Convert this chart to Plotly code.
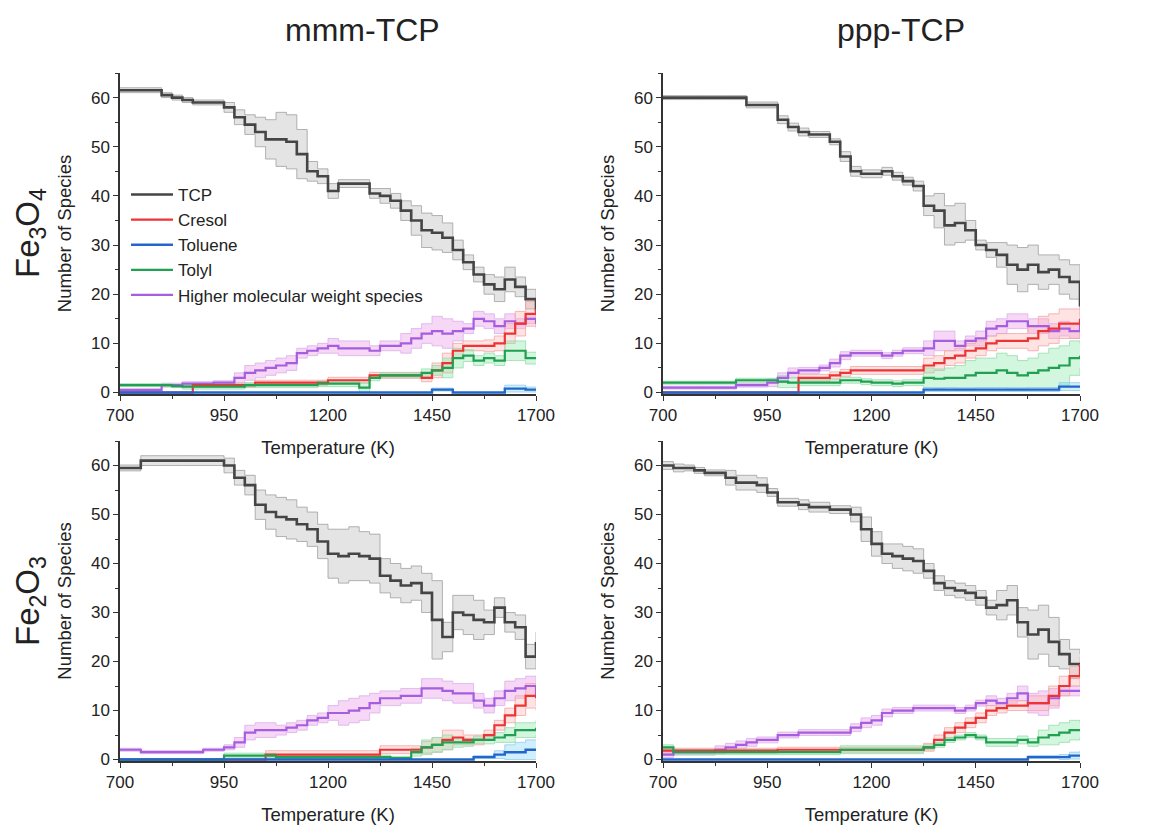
import plotly.graph_objects as go

# Temperature grid (K)
T = [700, 725, 750, 775, 800, 825, 850, 875, 900, 925, 950, 975, 1000, 1025, 1050,
     1075, 1100, 1125, 1150, 1175, 1200, 1225, 1250, 1275, 1300, 1325, 1350, 1375,
     1400, 1425, 1450, 1475, 1500, 1525, 1550, 1575, 1600, 1625, 1650, 1675, 1700]

SERIES = ["TCP", "Cresol", "Toluene", "Tolyl", "Higher molecular weight species"]

# ---------------- Panel A: mmm-TCP / Fe3O4 ----------------
A_TCP = [61.5, 61.5, 61.5, 61.5, 60.5, 60, 59.5, 59, 59, 59, 58, 56, 54.5, 53, 51.5, 51.5, 51, 48.5, 45, 44,
         41, 42.5, 42.5, 42.5, 40.5, 40, 39, 37, 35, 33, 32.5, 31.5, 29, 26.5, 24, 22, 21, 23, 21.5, 19, 16.5]
A_TCP_SD = [0.5, 0.5, 0.5, 0.5, 0.5, 0.5, 0.5, 0.5, 0.5, 0.5, 1, 1.5, 2, 3, 4, 5.5, 5.5, 5, 2, 1.5,
            1.5, 0.8, 0.8, 0.8, 1, 1.5, 1.5, 2, 3, 3.5, 3.5, 3, 2, 1.5, 1.5, 2, 2.5, 2.5, 2, 2, 1.5]
A_CRE = [0, 0, 0, 0, 0, 0, 0, 1.5, 1.5, 1.5, 1.5, 1.5, 1.5, 2, 2, 2, 2, 2, 2, 2,
         2.5, 2.5, 2.5, 2.5, 3.5, 3.5, 3.5, 3.5, 3.5, 3, 4.5, 6, 8.5, 9.5, 9.5, 9.5, 10, 12, 14, 16, 17]
A_CRE_SD = [0, 0, 0, 0, 0, 0, 0, 0.4, 0.4, 0.4, 0.4, 0.4, 0.4, 0.5, 0.5, 0.5, 0.5, 0.5, 0.5, 0.5,
            0.6, 0.6, 0.6, 0.6, 0.6, 0.6, 0.6, 0.6, 0.6, 0.8, 1.5, 2, 1.5, 1, 1, 1.2, 1.5, 2, 2.5, 2.5, 2]
A_TOL = [0, 0, 0, 0, 0, 0, 0, 0, 0, 0, 0, 0, 0, 0, 0, 0, 0, 0, 0, 0,
         0, 0, 0, 0, 0, 0, 0, 0, 0, 0, 0.6, 0.6, 0, 0, 0, 0, 0, 0.8, 0.8, 0.6, 0.6]
A_TOL_SD = [0, 0, 0, 0, 0, 0, 0, 0, 0, 0, 0, 0, 0, 0, 0, 0, 0, 0, 0, 0,
            0, 0, 0, 0, 0, 0, 0, 0, 0, 0, 0.3, 0.3, 0, 0, 0, 0, 0, 0.7, 0.7, 0.5, 0.5]
A_TYL = [1.5, 1.5, 1.5, 1.5, 1.5, 1.3, 1.2, 1.2, 1.2, 1.2, 1.2, 1.2, 1.5, 1.5, 1.5, 1.5, 1.5, 1.5, 1.5, 1.8,
         1.8, 1.8, 1.8, 1.0, 3, 3.5, 3.5, 3.5, 3.5, 4, 4.5, 5, 7, 7.5, 6.5, 7, 6.5, 8.5, 8.5, 7, 7]
A_TYL_SD = [0.3, 0.3, 0.3, 0.3, 0.3, 0.3, 0.5, 0.5, 0.5, 0.5, 0.5, 0.5, 0.5, 0.5, 0.5, 0.5, 0.5, 0.5, 0.5, 0.6,
            0.6, 0.6, 0.6, 1.0, 0.6, 0.5, 0.5, 0.5, 0.5, 0.8, 1, 2, 2, 1.2, 1, 1, 1, 2, 2, 1.2, 1]
A_HMW = [0.5, 0.5, 0.5, 0.5, 1.5, 1.5, 1.8, 1.8, 1.8, 2, 2, 3, 4, 4.5, 5, 5.5, 6, 8, 8.5, 9,
         9.5, 9, 9, 9, 8.5, 9.5, 9.5, 10, 11, 12, 12.5, 12, 12.5, 13, 15, 14.5, 13.5, 14.5, 14, 15, 14]
A_HMW_SD = [0.3, 0.3, 0.3, 0.3, 0.4, 0.4, 0.4, 0.4, 0.4, 0.4, 0.4, 1, 1.5, 1.5, 1.5, 1.5, 1.5, 1, 1, 1,
            1.5, 1.5, 1.5, 1.5, 1, 1, 1, 2, 2, 2, 3, 3, 2, 1, 1.5, 1.5, 1.5, 1.5, 1, 1, 1]

# ---------------- Panel B: ppp-TCP / Fe3O4 ----------------
B_TCP = [60, 60, 60, 60, 60, 60, 60, 60, 58.5, 58.5, 58.5, 55.5, 54, 53, 52.5, 52.5, 51, 48, 45, 44.5,
         44.5, 45, 44, 43, 42, 38, 37, 34, 34.5, 33, 30, 29, 28, 26, 25, 26, 24.5, 25, 23.5, 22.5, 17.5]
B_TCP_SD = [0.4, 0.4, 0.4, 0.4, 0.4, 0.4, 0.4, 0.4, 0.6, 0.6, 0.6, 0.8, 0.8, 0.8, 0.6, 0.6, 0.6, 1, 1, 0.8,
            0.8, 0.8, 0.8, 0.8, 1, 2, 3.5, 4, 4, 2, 1, 1.5, 2.5, 4, 4.5, 4, 3.5, 3, 3.5, 3.5, 2]
B_CRE = [0, 0, 0, 0, 0, 0, 0, 0, 0, 0, 0, 0, 0, 3, 3, 3, 3.5, 4, 4.5, 4.5,
         4.5, 4.5, 4.5, 4.5, 4.5, 5.5, 6, 7, 7.5, 8.5, 9, 10, 10.5, 10.5, 10.5, 11, 12.5, 13, 14, 14, 15]
B_CRE_SD = [0, 0, 0, 0, 0, 0, 0, 0, 0, 0, 0, 0, 0, 0.7, 0.7, 0.7, 0.7, 0.7, 0.8, 0.8,
            0.8, 0.8, 0.8, 0.8, 0.8, 1.5, 1.5, 1.5, 1.5, 1.5, 1.5, 1.5, 1.5, 1.5, 1.5, 2.5, 3, 3, 3, 3, 2.5]
B_TOL = [0, 0, 0, 0, 0, 0, 0, 0, 0, 0, 0, 0, 0, 0, 0, 0, 0, 0, 0, 0,
         0, 0, 0, 0, 0, 0.6, 0.6, 0.6, 0.6, 0.6, 0.6, 0.6, 0.6, 0.6, 0.6, 0.6, 0.6, 0.6, 1.2, 1.2, 1.2]
B_TOL_SD = [0, 0, 0, 0, 0, 0, 0, 0, 0, 0, 0, 0, 0, 0, 0, 0, 0, 0, 0, 0,
            0, 0, 0, 0, 0, 0.4, 0.4, 0.4, 0.4, 0.4, 0.4, 0.4, 0.4, 0.4, 0.4, 0.4, 0.4, 0.4, 0.8, 0.8, 0.8]
B_TYL = [2, 2, 2, 2, 2, 2, 2, 2.5, 2.5, 2.5, 2.5, 2.2, 2, 2, 2, 2, 2, 2.5, 2.5, 2.2,
         2, 2, 1.8, 2, 2, 3, 2.8, 3, 3, 3.5, 4, 4, 4.5, 4, 3.5, 4, 4.5, 5, 5.5, 7, 7.5]
B_TYL_SD = [0.3, 0.3, 0.3, 0.3, 0.3, 0.3, 0.3, 0.4, 0.4, 0.4, 0.4, 1.2, 1, 0.6, 0.6, 0.6, 0.6, 0.6, 0.6, 0.6,
            0.6, 0.6, 0.6, 0.6, 0.6, 2, 2, 2, 2.5, 3, 3, 3, 3.5, 3.5, 3, 3, 3.5, 4, 4, 3.5, 2.5]
B_HMW = [1, 1, 1, 1, 1, 1, 1, 1.5, 1.5, 1.5, 2, 3, 4, 4.5, 4.5, 5, 6, 7.5, 8, 8,
         8, 7.5, 8, 8.5, 8.5, 9, 10.5, 10.5, 9.5, 10.5, 11, 13, 13.5, 14.5, 14.5, 13.5, 13.5, 12.5, 13, 12.5, 14]
B_HMW_SD = [0.3, 0.3, 0.3, 0.3, 0.3, 0.3, 0.3, 0.4, 0.4, 0.4, 0.8, 1, 1, 0.6, 0.6, 0.6, 0.8, 0.8, 0.6, 0.6,
            0.6, 0.6, 0.6, 0.6, 0.6, 1.5, 2, 2, 1, 1, 1.5, 1.5, 1.5, 1.5, 1.5, 1.5, 1.5, 1.5, 1.5, 1.5, 1.5]

# ---------------- Panel C: mmm-TCP / Fe2O3 ----------------
C_TCP = [59.5, 59.5, 61, 61, 61, 61, 61, 61, 61, 61, 60, 57.5, 56, 52, 50.5, 49.5, 49, 48, 47, 44.5,
         42, 41.5, 42, 41.5, 41, 37.5, 36.5, 35.5, 36, 34, 28.5, 25, 30, 29.5, 28.5, 28, 31, 28, 27, 21, 24]
C_TCP_SD = [0.6, 0.6, 1, 1, 1, 1, 1, 1, 1, 1, 1.5, 1.5, 2, 3, 3.5, 4, 4, 3.5, 3.5, 3.5,
            5, 5.5, 5.5, 5, 5, 3.5, 3.5, 3.5, 3.5, 4, 8, 3, 3.5, 4, 4, 2.5, 2, 2, 2.5, 2.5, 2]
C_CRE = [0, 0, 0, 0, 0, 0, 0, 0, 0, 0, 0, 0, 0, 0, 1, 1, 1, 1, 1, 1,
         1, 1, 1, 1, 1, 2, 2, 2, 2, 2.5, 3, 4, 4.5, 4, 4, 5, 7, 9, 11, 13, 12.5]
C_CRE_SD = [0, 0, 0, 0, 0, 0, 0, 0, 0, 0, 0, 0, 0, 0, 0.8, 0.8, 0.8, 0.8, 0.8, 0.8,
            0.8, 0.8, 0.8, 0.8, 0.8, 0.8, 0.8, 0.8, 0.8, 1.2, 1.5, 2, 1.5, 1, 1, 1, 1, 1.5, 2, 2.5, 2.5]
C_TOL = [0, 0, 0, 0, 0, 0, 0, 0, 0, 0, 0, 0, 0, 0, 0, 0, 0, 0, 0, 0,
         0, 0, 0, 0, 0, 0, 0, 0, 0, 0, 0, 0, 0, 0, 0.5, 0.5, 1, 1.5, 1.5, 2, 2]
C_TOL_SD = [0, 0, 0, 0, 0, 0, 0, 0, 0, 0, 0, 0, 0, 0, 0, 0, 0, 0, 0, 0,
            0, 0, 0, 0, 0, 0, 0, 0, 0, 0, 0, 0, 0, 0, 0.3, 0.3, 0.8, 1.5, 2, 2, 2]
C_TYL = [0, 0, 0, 0, 0, 0, 0, 0, 0, 0, 0.8, 0.8, 0.8, 0.8, 0.8, 0.5, 0.5, 0.5, 0.5, 0.5,
         0.5, 0.5, 0.5, 0.5, 0.5, 0.5, 0.3, 0.3, 1.5, 2.5, 3, 3.5, 3.5, 3.5, 4, 4, 4.5, 5, 6, 6, 6.5]
C_TYL_SD = [0.2, 0.2, 0.2, 0.2, 0.2, 0.2, 0.2, 0.2, 0.2, 0.2, 0.5, 0.5, 0.5, 0.5, 0.5, 0.4, 0.4, 0.4, 0.4, 0.4,
            0.4, 0.4, 0.4, 0.4, 0.4, 0.4, 0.3, 0.3, 0.8, 1.5, 1.5, 1.5, 1, 0.8, 0.8, 0.8, 1, 1.5, 1.5, 1.5, 1.5]
C_HMW = [2, 2, 1.5, 1.5, 1.5, 1.5, 1.5, 1.5, 2, 2, 2.5, 3.5, 5.5, 6, 6, 6, 6.5, 7, 8, 8.5,
         9.5, 9.5, 10, 10.5, 11.5, 12.5, 12.5, 13, 13, 14.5, 14.5, 14, 13.5, 13.5, 12, 11, 12.5, 14, 14.5, 15, 13]
C_HMW_SD = [0.3, 0.3, 0.3, 0.3, 0.3, 0.3, 0.3, 0.3, 0.3, 0.3, 0.5, 1, 1.5, 1.5, 1.5, 1, 1, 1, 1, 1,
            1.5, 2.5, 2.5, 2.5, 2, 1.5, 1.5, 1.5, 1.5, 2, 2, 2, 2, 2, 1.5, 1.5, 1.5, 2, 2, 2, 2]

# ---------------- Panel D: ppp-TCP / Fe2O3 ----------------
D_TCP = [60, 59.5, 59.5, 59, 58.5, 58.5, 57.5, 56.5, 56.5, 56, 54.5, 52.5, 52.5, 52, 51.5, 51.5, 51, 51, 50, 47,
         44, 42, 41.5, 41, 40.5, 38.5, 36, 35, 34.5, 34, 33, 31, 31.5, 32.5, 28, 25.5, 26.5, 24, 21.5, 19.5, 19]
D_TCP_SD = [0.8, 0.8, 0.6, 0.6, 0.6, 0.6, 1.5, 1.5, 1.5, 1.5, 0.8, 0.8, 0.8, 1, 1, 1, 0.8, 0.8, 1.5, 2.5,
            2.5, 2, 2.5, 2.5, 2.5, 1.5, 1.5, 1.5, 1.5, 1.5, 1.5, 1.5, 3, 3, 3, 5, 5, 5, 3, 3, 2.5]
D_CRE = [1.8, 1.8, 1.8, 1.8, 1.8, 1.8, 1.8, 1.8, 1.8, 1.8, 1.8, 2, 2, 2, 2, 2, 2, 2, 2, 2,
         2, 2, 2, 2, 2, 2.5, 4, 5.5, 6.5, 7.5, 8.5, 10, 10.5, 11, 11, 11.5, 11.5, 13, 15, 17, 19.5]
D_CRE_SD = [0.5, 0.5, 0.5, 0.5, 0.5, 0.5, 0.5, 0.5, 0.5, 0.5, 0.5, 0.5, 0.5, 0.5, 0.5, 0.5, 0.5, 0.5, 0.5, 0.5,
            0.5, 0.5, 0.5, 0.5, 0.5, 0.8, 1, 1, 1, 1, 1, 1, 1, 1, 1, 1.5, 1.5, 2, 2, 2, 1.5]
D_TOL = [0, 0, 0, 0, 0, 0, 0, 0, 0, 0, 0, 0, 0, 0, 0, 0, 0, 0, 0, 0,
         0, 0, 0, 0, 0, 0, 0, 0, 0, 0, 0, 0, 0, 0, 0, 0.5, 0.5, 0.5, 0.5, 0.8, 1]
D_TOL_SD = [0, 0, 0, 0, 0, 0, 0, 0, 0, 0, 0, 0, 0, 0, 0, 0, 0, 0, 0, 0,
            0, 0, 0, 0, 0, 0, 0, 0, 0, 0, 0, 0, 0, 0, 0, 0.3, 0.3, 0.3, 0.5, 0.7, 0.8]
D_TYL = [2.5, 1.5, 1.5, 1.5, 1.5, 1.5, 1.5, 1.5, 1.5, 1.5, 1.5, 1.5, 1.5, 1.5, 1.5, 1.5, 1.5, 2, 2, 2,
         2, 2, 2, 2, 2, 2.5, 3, 4, 4.5, 5, 4.5, 3.5, 3.5, 3.5, 4, 3.5, 4.5, 5, 5.5, 6, 6]
D_TYL_SD = [0.5, 0.5, 0.5, 0.5, 0.5, 0.5, 0.5, 0.5, 0.5, 0.5, 0.5, 0.5, 0.5, 0.5, 0.5, 0.5, 0.5, 0.8, 0.8, 0.8,
            0.8, 0.8, 0.8, 0.8, 0.8, 0.5, 0.5, 0.5, 0.5, 0.5, 0.5, 0.8, 0.8, 0.8, 0.8, 0.8, 1.5, 2, 2, 2, 1.5]
D_HMW = [1, 1.5, 1.5, 1.5, 1.5, 2, 2.5, 3, 3.5, 4, 4, 5, 5, 5.5, 5.5, 5.5, 5.5, 5.5, 6.5, 7.5,
         8, 9.5, 10, 10, 10.5, 10.5, 10.5, 10.5, 10, 10.5, 11.5, 12, 11.5, 12.5, 13.5, 11.5, 11.5, 12.5, 14, 14, 14]
D_HMW_SD = [0.6, 0.6, 0.6, 0.6, 0.6, 0.8, 0.8, 0.8, 0.8, 0.6, 0.6, 0.6, 0.6, 0.6, 0.6, 0.6, 0.6, 0.6, 0.8, 1,
            1, 0.8, 0.6, 0.6, 0.6, 0.6, 0.6, 0.6, 0.6, 0.6, 0.6, 1, 1, 1, 1.5, 2, 2.5, 2, 1, 1, 1]

# ---------------- styles ----------------
LINE_COL = {"TCP": "#454545", "Cresol": "#ec3434", "Toluene": "#2266cc",
            "Tolyl": "#22a052", "Higher molecular weight species": "#a65ee0"}
EDGE_COL = {"TCP": "#a0a0a0", "Cresol": "#f5a5a5", "Toluene": "#8fcbee",
            "Tolyl": "#98dcae", "Higher molecular weight species": "#dcaeea"}
FILL_COL = {"TCP": "rgba(195,195,195,0.45)", "Cresol": "rgba(255,175,175,0.35)",
            "Toluene": "rgba(120,210,250,0.35)", "Tolyl": "rgba(130,230,160,0.35)",
            "Higher molecular weight species": "rgba(238,175,238,0.5)"}
LINE_W = {"TCP": 2.6, "Cresol": 2.2, "Toluene": 2.4, "Tolyl": 2.2,
          "Higher molecular weight species": 2.2}

PANELS = [
    ("x", "y", {"TCP": (A_TCP, A_TCP_SD), "Cresol": (A_CRE, A_CRE_SD), "Toluene": (A_TOL, A_TOL_SD),
                "Tolyl": (A_TYL, A_TYL_SD), "Higher molecular weight species": (A_HMW, A_HMW_SD)}),
    ("x2", "y2", {"TCP": (B_TCP, B_TCP_SD), "Cresol": (B_CRE, B_CRE_SD), "Toluene": (B_TOL, B_TOL_SD),
                  "Tolyl": (B_TYL, B_TYL_SD), "Higher molecular weight species": (B_HMW, B_HMW_SD)}),
    ("x3", "y3", {"TCP": (C_TCP, C_TCP_SD), "Cresol": (C_CRE, C_CRE_SD), "Toluene": (C_TOL, C_TOL_SD),
                  "Tolyl": (C_TYL, C_TYL_SD), "Higher molecular weight species": (C_HMW, C_HMW_SD)}),
    ("x4", "y4", {"TCP": (D_TCP, D_TCP_SD), "Cresol": (D_CRE, D_CRE_SD), "Toluene": (D_TOL, D_TOL_SD),
                  "Tolyl": (D_TYL, D_TYL_SD), "Higher molecular weight species": (D_HMW, D_HMW_SD)}),
]

fig = go.Figure()
band_order = ["TCP", "Higher molecular weight species", "Cresol", "Tolyl", "Toluene"]
line_order = ["TCP", "Higher molecular weight species", "Cresol", "Tolyl", "Toluene"]

for pi, (xa, ya, data) in enumerate(PANELS):
    for name in band_order:
        m, sd = data[name]
        lo = [max(0.0, a - b) for a, b in zip(m, sd)]
        hi = [a + b for a, b in zip(m, sd)]
        fig.add_trace(go.Scatter(x=T, y=lo, xaxis=xa, yaxis=ya, mode="lines", line_shape="hv",
                                 line=dict(color=EDGE_COL[name], width=0.8),
                                 showlegend=False, hoverinfo="skip"))
        fig.add_trace(go.Scatter(x=T, y=hi, xaxis=xa, yaxis=ya, mode="lines", line_shape="hv",
                                 line=dict(color=EDGE_COL[name], width=0.8), fill="tonexty",
                                 fillcolor=FILL_COL[name], showlegend=False, hoverinfo="skip"))
    for name in line_order:
        m, sd = data[name]
        fig.add_trace(go.Scatter(x=T, y=m, xaxis=xa, yaxis=ya, mode="lines", line_shape="hv",
                                 line=dict(color=LINE_COL[name], width=LINE_W[name]),
                                 name=name, showlegend=(pi == 0),
                                 legendrank=SERIES.index(name) + 1))

W, H = 1157, 826
OFF = 8  # page body margin offset of the figure
FONT = "Liberation Sans, Arial, sans-serif"


def px(x):
    return (x - OFF) / W


def py(y):
    return 1 - (y - OFF) / H


x_dom = {1: [px(120), px(536)], 2: [px(663), px(1080)]}
y_dom = {1: [py(394), py(73)], 2: [py(761), py(441)]}


def xax(col, anchor):
    return dict(domain=x_dom[col], anchor=anchor, range=[700, 1700], automargin=False,
                tickvals=[700, 950, 1200, 1450, 1700], ticks="outside", ticklen=5, tickwidth=1.2,
                tickcolor="#333", showline=True, linecolor="#333", linewidth=1.5,
                showgrid=False, zeroline=False,
                minor=dict(ticks="outside", ticklen=3, tickcolor="#333", tick0=825, dtick=250),
                tickfont=dict(size=17, color="#222", family=FONT),
                title=dict(text="Temperature (K)", font=dict(size=18.5, color="#222", family=FONT),
                           standoff=17))


def yax(row, anchor):
    return dict(domain=y_dom[row], anchor=anchor, range=[-0.3, 65], automargin=False,
                tickvals=[0, 10, 20, 30, 40, 50, 60], ticks="outside", ticklen=5, tickwidth=1.2,
                tickcolor="#333", showline=True, linecolor="#333", linewidth=1.5,
                showgrid=False, zeroline=False,
                minor=dict(ticks="outside", ticklen=3, tickcolor="#333", tick0=5, dtick=10),
                tickfont=dict(size=17, color="#222", family=FONT),
                title=dict(text="Number of Species", font=dict(size=18.5, color="#222", family=FONT),
                           standoff=14))


fig.update_layout(
    width=W, height=H, margin=dict(l=0, r=0, t=0, b=0, autoexpand=False),
    paper_bgcolor="white", plot_bgcolor="white",
    font=dict(family=FONT, color="#222"),
    xaxis=xax(1, "y"), yaxis=yax(1, "x"),
    xaxis2=xax(2, "y2"), yaxis2=yax(1, "x2"),
    xaxis3=xax(1, "y3"), yaxis3=yax(2, "x3"),
    xaxis4=xax(2, "y4"), yaxis4=yax(2, "x4"),
    legend=dict(x=px(126), y=py(177), xanchor="left", yanchor="top", traceorder="normal",
                bgcolor="rgba(0,0,0,0)", font=dict(size=17, color="#222", family=FONT),
                tracegroupgap=0, itemwidth=42),
    annotations=[
        dict(text="mmm-TCP", x=px(362), y=py(30), xref="paper", yref="paper",
             xanchor="center", yanchor="middle",
             showarrow=False, font=dict(size=32, color="#222", family=FONT)),
        dict(text="ppp-TCP", x=px(901), y=py(30), xref="paper", yref="paper",
             xanchor="center", yanchor="middle",
             showarrow=False, font=dict(size=32, color="#222", family=FONT)),
        dict(text="Fe<sub>3</sub>O<sub>4</sub>", x=px(30), y=py(233), xref="paper", yref="paper",
             xanchor="center", yanchor="middle",
             showarrow=False, textangle=-90, font=dict(size=33, color="#222", family=FONT)),
        dict(text="Fe<sub>2</sub>O<sub>3</sub>", x=px(30), y=py(601), xref="paper", yref="paper",
             xanchor="center", yanchor="middle",
             showarrow=False, textangle=-90, font=dict(size=33, color="#222", family=FONT)),
    ],
)

fig.write_html("out.html")
